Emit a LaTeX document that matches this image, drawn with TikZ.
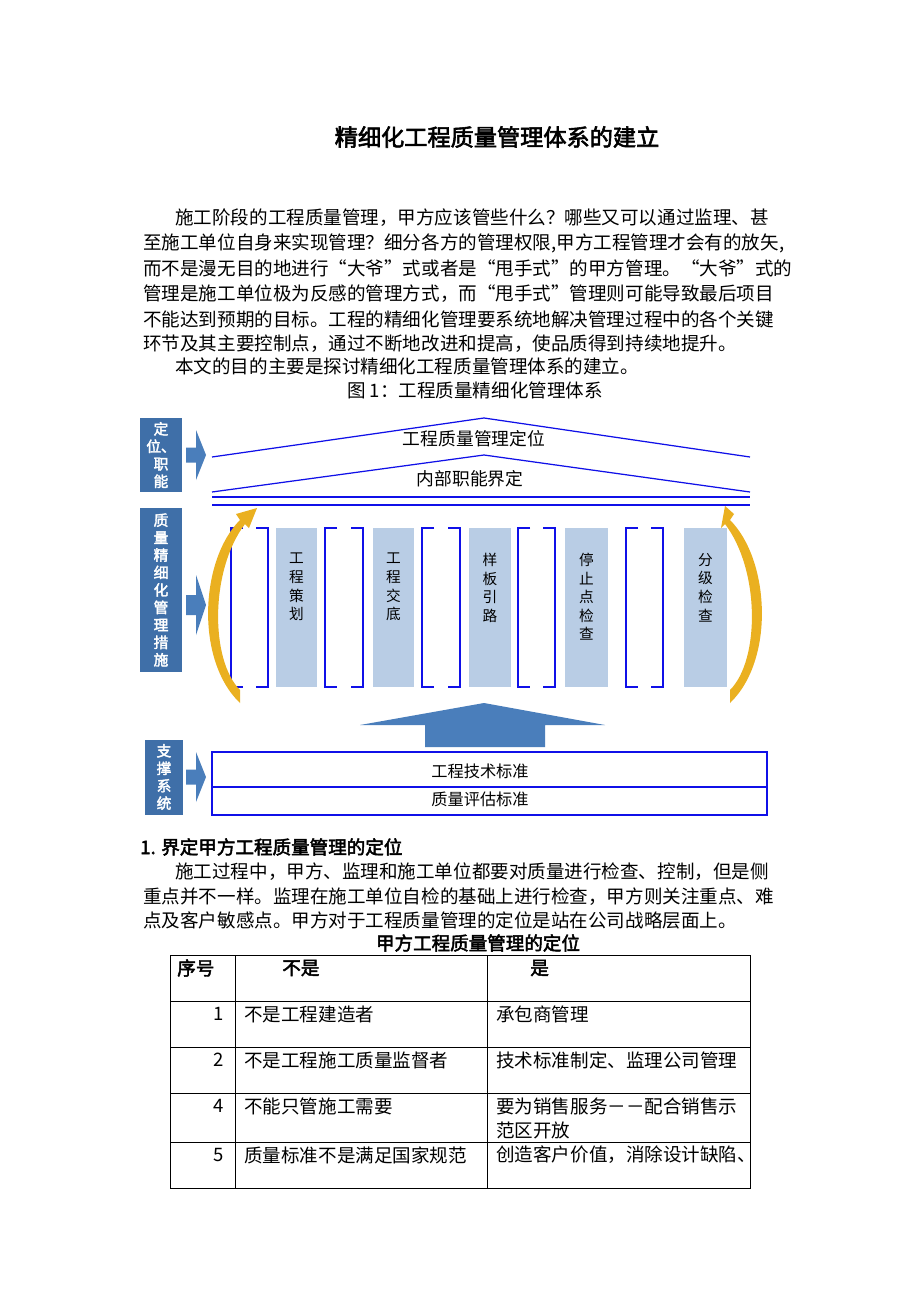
\documentclass[tikz,border=0pt]{standalone}
\usepackage{fontspec}
\setmainfont{Noto Sans CJK SC}[AutoFakeBold=2.5]
\definecolor{boxblue}{HTML}{3F6FA8}
\definecolor{arrblue}{HTML}{4A7EBB}
\definecolor{colfill}{HTML}{B9CDE5}
\definecolor{lineblue}{HTML}{1010E8}
\definecolor{arcgold}{HTML}{EAB020}
\tikzset{
	body/.style={anchor=west,inner sep=0pt,font=\fontsize{12}{14}\selectfont},
	sidebox/.style={fill=boxblue,text=white,align=center,inner sep=0pt,font=\fontsize{9.5}{11.3}\selectfont\bfseries},
	coltext/.style={align=center,inner sep=0pt,font=\fontsize{9.5}{12}\selectfont},
	diag/.style={font=\fontsize{11.5}{13}\selectfont,inner sep=0pt},
}
\begin{document}
\begin{tikzpicture}[x=0.647pt,y=-0.647pt]
	\useasboundingbox[fill=white] (0,0) rectangle (920,1302);
	% title and text
	\node[diag,font=\fontsize{15}{18}\selectfont\bfseries] (title) at (497,137) {精细化工程质量管理体系的建立};
	\node[body] (p1) at (175,218) {施工阶段的工程质量管理，甲方应该管些什么？哪些又可以通过监理、甚};
	\node[body] (p2) at (143,243) {至施工单位自身来实现管理？细分各方的管理权限,甲方工程管理才会有的放矢,};
	\node[body] (p3) at (143,268) {而不是漫无目的地进行“大爷”式或者是“甩手式”的甲方管理。“大爷”式的};
	\node[body] (p4) at (143,294) {管理是施工单位极为反感的管理方式，而“甩手式”管理则可能导致最后项目};
	\node[body] (p5) at (143,319) {不能达到预期的目标。工程的精细化管理要系统地解决管理过程中的各个关键};
	\node[body] (p6) at (143,344) {环节及其主要控制点，通过不断地改进和提高，使品质得到持续地提升。};
	\node[body] (p7) at (175,366) {本文的目的主要是探讨精细化工程质量管理体系的建立。};
	\node[body,anchor=center] (cap) at (475,390) {图 1：工程质量精细化管理体系};
	% side boxes
	\node[sidebox,minimum width=42*0.647pt,minimum height=74*0.647pt] (s1) at (161,455) {定\\位、\\职\\能};
	\node[sidebox,minimum width=42*0.647pt,minimum height=164*0.647pt] (s2) at (161,590) {质\\量\\精\\细\\化\\管\\理\\措\\施};
	\node[sidebox,minimum width=38*0.647pt,minimum height=75*0.647pt] (s3) at (164,777) {支\\撑\\系\\统};
	\foreach \yy/\hh in {455/25,605/30,777/25}
		\fill[arrblue] (186,\yy-\hh/2+5) -- (196,\yy-\hh/2+5) -- (196,\yy-\hh) -- (206,\yy) -- (196,\yy+\hh) -- (196,\yy+\hh/2-5) -- (186,\yy+\hh/2-5) -- cycle;
	% roofs
	\draw[lineblue,thick] (212,457) -- (484,418) -- (750,457);
	\draw[lineblue,thick] (212,492) -- (484,455) -- (750,492);
	\draw[lineblue,thick] (212,497) -- (750,497);
	\draw[lineblue,thick] (212,505) -- (750,505);
	\node[diag] (roof1) at (474,439) {工程质量管理定位};
	\node[diag] (roof2) at (470,479) {内部职能界定};
	% columns
	\foreach \xa/\xb in {231/268,325/363,422/460,518/555,626/663}{
		\draw[lineblue,thick] (\xa+12,528) -- (\xa,528) -- (\xa,687) -- (\xa+12,687);
		\draw[lineblue,thick] (\xb-12,528) -- (\xb,528) -- (\xb,687) -- (\xb-12,687);
	}
	\foreach \xa/\xb/\txt in {276/317/{工\\程\\策\\划},373/414/{工\\程\\交\\底},469/511/{样\\板\\引\\路},565/608/{停\\止\\点\\检\\查},684/727/{分\\级\\检\\查}}{
		\fill[colfill] (\xa,528) rectangle (\xb,687);
		\node[coltext,anchor=north] at ({(\xa+\xb)/2},553) {\txt};
	}
	% gold arcs
	\fill[arcgold] (240,703) .. controls (195,660) and (200,560) .. (240,520) -- (236,514) -- (257,508) -- (249,528) -- (245,524) .. controls (210,570) and (210,660) .. (240,690) -- cycle;
	\fill[arcgold] (730,703) .. controls (775,660) and (770,560) .. (730,520) -- (734,514) -- (725,506) -- (721,528) -- (725,524) .. controls (760,570) and (760,660) .. (730,690) -- cycle;
	% up arrow
	\fill[arrblue] (425,747) -- (425,725) -- (360,725) -- (484,703) -- (605,725) -- (545,725) -- (545,747) -- cycle;
	% base boxes
	\draw[lineblue,thick] (212,752) rectangle (767,787);
	\draw[lineblue,thick] (212,787) rectangle (767,815);
	\node[diag,font=\fontsize{10.5}{12}\selectfont] (base1) at (480,771) {工程技术标准};
	\node[diag,font=\fontsize{10.5}{12}\selectfont] (base2) at (480,799) {质量评估标准};
	% section 1
	\node[body,font=\fontsize{12}{14}\selectfont\bfseries] (h1) at (140,847) {1. 界定甲方工程质量管理的定位};
	\node[body] (q1) at (175,872) {施工过程中，甲方、监理和施工单位都要对质量进行检查、控制，但是侧};
	\node[body] (q2) at (143,897) {重点并不一样。监理在施工单位自检的基础上进行检查，甲方则关注重点、难};
	\node[body] (q3) at (143,920) {点及客户敏感点。甲方对于工程质量管理的定位是站在公司战略层面上。};
	\node[body,anchor=center,font=\fontsize{12}{14}\selectfont\bfseries] (tt) at (478,943) {甲方工程质量管理的定位};
	% table
	\draw (170,955) rectangle (750,1188);
	\foreach \yy in {1001,1047,1093,1142} \draw (170,\yy) -- (750,\yy);
	\draw (235,955) -- (235,1188);
	\draw (487,955) -- (487,1188);
	\node[body,font=\fontsize{12}{14}\selectfont\bfseries] (th1) at (177,968) {序号};
	\node[body,font=\fontsize{12}{14}\selectfont\bfseries] (th2) at (282,968) {不是};
	\node[body,font=\fontsize{12}{14}\selectfont\bfseries] (th3) at (530,968) {是};
	\foreach \yy/\n/\a/\b in {1014/1/不是工程建造者/承包商管理,1060/2/不是工程施工质量监督者/技术标准制定、监理公司管理,1106/4/不能只管施工需要/要为销售服务－－配合销售示,1155/5/质量标准不是满足国家规范/创造客户价值，消除设计缺陷、}{
		\node[body,anchor=east] at (224,\yy) {\n};
		\node[body] at (244,\yy) {\a};
		\node[body] at (496,\yy) {\b};
	}
	\node[body] (r4b) at (496,1130) {范区开放};
\end{tikzpicture}
\end{document}
